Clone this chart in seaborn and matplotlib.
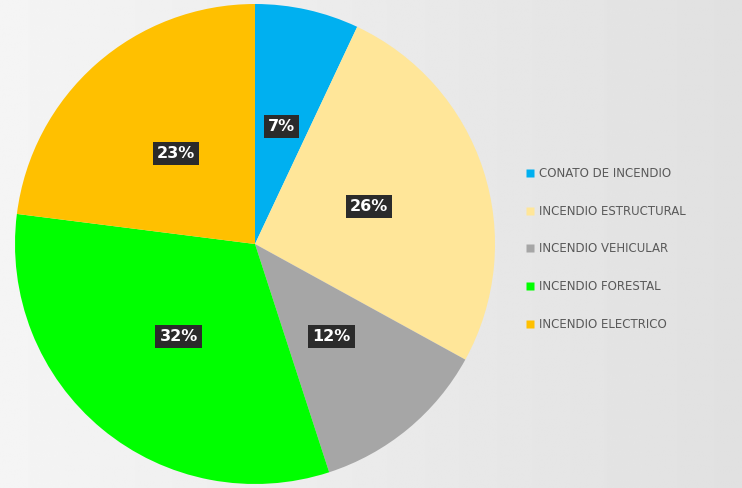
import matplotlib
matplotlib.use("Agg")
import matplotlib.pyplot as plt
import seaborn as sns
import numpy as np

categories = ["CONATO DE INCENDIO", "INCENDIO ESTRUCTURAL", "INCENDIO VEHICULAR",
              "INCENDIO FORESTAL", "INCENDIO ELECTRICO"]
values = [7, 26, 12, 32, 23]
colors = ["#00B0F0", "#FFE699", "#A6A6A6", "#00FF00", "#FFC000"]

sns.set_theme(style="white")
plt.rcParams['font.family'] = ['DejaVu Sans']

fig = plt.figure(figsize=(7.42, 4.88), dpi=100)
fig.patch.set_facecolor("#e6e6e6")

# subtle background gradient
bg = fig.add_axes([0, 0, 1, 1])
grad = np.linspace(0.96, 0.88, 256)
bg.imshow(np.tile(grad, (32, 1)), cmap="gray", vmin=0, vmax=1, aspect="auto", extent=[0, 1, 0, 1])
bg.axis("off")

ax = fig.add_axes([15 / 742, 4 / 488, 480 / 742, 480 / 488])
ax.set_facecolor("none")
wedges, texts = ax.pie(values, colors=colors, startangle=90, counterclock=False,
                       radius=1.0, wedgeprops=dict(linewidth=0))
total = sum(values)
for w, v in zip(wedges, values):
    ang = np.deg2rad((w.theta1 + w.theta2) / 2)
    r = 0.5
    ax.text(r * np.cos(ang), r * np.sin(ang), f"{round(100 * v / total)}%",
            ha="center", va="center", color="white", fontsize=11.5, fontweight="bold",
            bbox=dict(boxstyle="square,pad=0.25", fc="#2b2b2b", ec="none"))
ax.set_xlim(-1, 1)
ax.set_ylim(-1, 1)
ax.set_aspect("equal")
ax.axis("off")

handles = [plt.Line2D([0], [0], marker="s", linestyle="none", markersize=6,
                      markerfacecolor=c, markeredgecolor="none") for c in colors]
fig.legend(handles, categories, loc="center left", bbox_to_anchor=(515 / 742, 1 - 249 / 488),
           frameon=False, fontsize=8.5, labelcolor="#595959", handletextpad=0.3,
           labelspacing=2.1, handlelength=0.8)

fig.savefig("out.png", dpi=100, facecolor=fig.get_facecolor())
